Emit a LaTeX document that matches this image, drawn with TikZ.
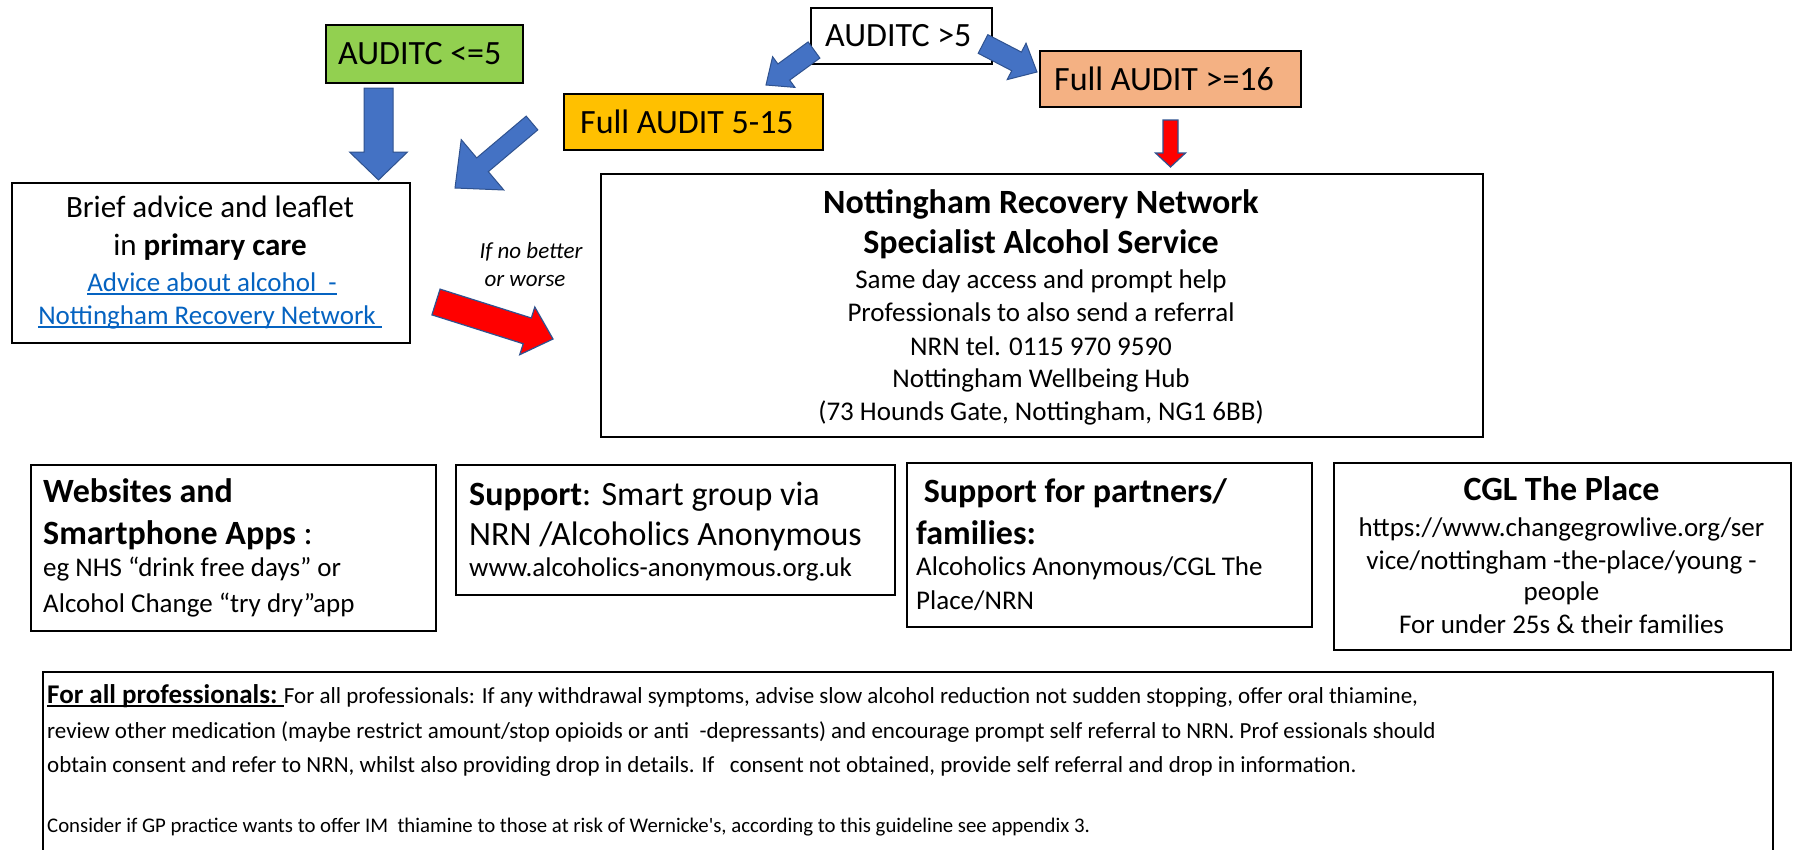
\documentclass[tikz,border=0pt]{standalone}
\usepackage{fontspec}
\setmainfont{Carlito}
\usetikzlibrary{calc}
\definecolor{abblue}{HTML}{4472C4}
\definecolor{abedge}{HTML}{2F528F}
\definecolor{agreen}{HTML}{92D050}
\definecolor{agold}{HTML}{FFC000}
\definecolor{asalmon}{HTML}{F4B183}
\definecolor{alink}{HTML}{0563C1}
\definecolor{ared}{HTML}{FF0000}
\newcommand\fsbig{\fontsize{34}{40}\selectfont}
\newcommand\fsmid{\fontsize{31}{38}\selectfont}
\newcommand\fsbody{\fontsize{27}{33}\selectfont}
\newcommand\fsnote{\fontsize{23}{28}\selectfont}
\newcommand\fslead{\fontsize{27}{32}\selectfont}
\newcommand\fssmall{\fontsize{23}{28}\selectfont}
\newcommand\fstiny{\fontsize{20.8}{26}\selectfont}
% block arrow: style, tail, tip, shaft half width, head half width, head length
\newcommand\blockarrow[6]{%
  \coordinate (ba-h) at ($(#3)!#6!(#2)$);
  \path[#1] ($(#2)!#4!90:(#3)$) -- ($(ba-h)!#4!90:(#3)$) -- ($(ba-h)!#5!90:(#3)$)
    -- (#3) -- ($(ba-h)!#5!-90:(#3)$) -- ($(ba-h)!#4!-90:(#3)$) -- ($(#2)!#4!-90:(#3)$) -- cycle;}
\tikzset{
  box/.style={draw=black, line width=1.6pt, inner sep=0pt, anchor=north west},
  lbl/.style={inner sep=0pt, anchor=base},
  lblw/.style={inner sep=0pt, anchor=base west},
  bluearrow/.style={fill=abblue, draw=abedge, line width=1pt},
  redarrow/.style={fill=ared, draw=abedge, line width=1.2pt},
  linkline/.style={draw=alink, line width=1.3pt},
}
\begin{document}
\begin{tikzpicture}[x=1pt,y=-1pt]
\useasboundingbox (0,0) rectangle (1793,849);
\fill[white] (0,0) rectangle (1793,849);

% top decision boxes
\node[box, fill=agreen, minimum width=197pt, minimum height=58pt] (c5) at (325,24) {};
\node[lblw] (c5t) at (338,64) {\fsbig AUDITC <=5};
\node[box, fill=white, minimum width=181pt, minimum height=56pt] (cg5) at (810,7) {};
\node[lblw] (cg5t) at (825,46) {\fsbig AUDITC >5};
\node[box, fill=agold, minimum width=259pt, minimum height=56pt] (fa) at (563,93) {};
\node[lblw] (fat) at (580,133) {\fsbig Full AUDIT 5-15};
\node[box, fill=asalmon, minimum width=261pt, minimum height=56pt] (fb) at (1039,50) {};
\node[lblw] (fbt) at (1054,90) {\fsbig Full AUDIT >=16};

% brief advice box
\node[box, minimum width=398pt, minimum height=160pt] (brief) at (11,182) {};
\node[lbl] (br1) at (210,217) {\fsmid Brief advice and leaflet};
\node[lbl] (br2) at (210,255) {\fsmid in \textbf{primary care}};
\node[lbl, text=alink] (br3) at (212,291) {\fsbody Advice about alcohol\ \ -};
\node[lbl, text=alink] (br4) at (210,324) {\fsbody Nottingham Recovery Network\ \null};
\draw[linkline] ([yshift=-3pt]br3.base west) -- ([yshift=-3pt]br3.base east);
\draw[linkline] ([yshift=-3pt]br4.base west) -- ([yshift=-3pt]br4.base east);

% note
\node[lbl] (n1) at (531,258) {\fsnote\itshape If no better};
\node[lbl] (n2) at (525,286) {\fsnote\itshape or worse};

% NRN box
\node[box, minimum width=882pt, minimum height=263pt] (nrn) at (600,173) {};
\node[lbl] (nr1) at (1041,213) {\fsbig\bfseries Nottingham Recovery Network};
\node[lbl] (nr2) at (1041,253) {\fsbig\bfseries Specialist Alcohol Service};
\node[lbl] (nr3) at (1041,288) {\fsbody Same day access and prompt help};
\node[lbl] (nr4) at (1041,321) {\fsbody Professionals to also send a referral};
\node[lbl] (nr5) at (1041,355) {\fsbody NRN tel. 0115 970 9590};
\node[lbl] (nr6) at (1041,387) {\fsbody Nottingham Wellbeing Hub};
\node[lbl] (nr7) at (1041,420) {\fsbody (73 Hounds Gate, Nottingham, NG1 6BB)};

% websites box
\node[box, minimum width=405pt, minimum height=166pt] (web) at (30,464) {};
\node[lblw] (we1) at (43,502) {\fsbig\bfseries Websites and};
\node[lblw] (we2) at (43,544) {\fsbig\textbf{Smartphone Apps} :};
\node[lblw] (we3) at (43,576) {\fsbody eg NHS “drink free days” or};
\node[lblw] (we4) at (43,612) {\fsbody Alcohol Change “try dry”app};

% support box
\node[box, minimum width=439pt, minimum height=130pt] (sup) at (455,464) {};
\node[lblw] (su1) at (469,505) {\fsbig\textbf{Support}: Smart group via};
\node[lblw] (su2) at (469,545) {\fsbig NRN /Alcoholics Anonymous};
\node[lblw] (su3) at (469,576) {\fsbody www.alcoholics-anonymous.org.uk};

% partners box
\node[box, minimum width=405pt, minimum height=164pt] (par) at (906,462) {};
\node[lblw] (pa1) at (916,502) {\fsbig\bfseries\ Support for partners/};
\node[lblw] (pa2) at (916,544) {\fsbig\bfseries families:};
\node[lblw] (pa3) at (916,575) {\fsbody Alcoholics Anonymous/CGL The};
\node[lblw] (pa4) at (916,609) {\fsbody Place/NRN};

% CGL box
\node[box, minimum width=457pt, minimum height=187pt] (cgl) at (1333,462) {};
\node[lbl] (cg1) at (1561.5,500) {\fsbig\bfseries CGL The Place};
\node[lbl] (cg2) at (1561.5,536) {\fsbody https://www.changegrowlive.org/ser};
\node[lbl] (cg3) at (1561.5,569) {\fsbody vice/nottingham -the-place/young -};
\node[lbl] (cg4) at (1561.5,600) {\fsbody people};
\node[lbl] (cg5) at (1561.5,633) {\fsbody For under 25s \& their families};

% bottom box
\node[box, minimum width=1730pt, minimum height=220pt] (prof) at (42,671) {};
\node[lblw] (pr1a) at (47,703) {\fslead\bfseries For all professionals:\ \null};
\draw[black, line width=1.6pt] ([yshift=-3pt]pr1a.base west) -- ([yshift=-3pt]pr1a.base east);
\node[lblw] (pr1b) at (pr1a.base east) {\fssmall For all professionals: If any withdrawal symptoms, advise slow alcohol reduction not sudden stopping, offer oral thiamine,};
\node[lblw] (pr2) at (47,738) {\fssmall review other medication (maybe restrict amount/stop opioids or anti\ \ -depressants) and encourage prompt self referral to NRN. Prof essionals should};
\node[lblw] (pr3) at (47,772) {\fssmall obtain consent and refer to NRN, whilst also providing drop in details. If\ \ \ consent not obtained, provide self referral and drop in information.};
\node[lblw] (pr5) at (47,832) {\fstiny Consider if GP practice wants to offer IM\ \ thiamine to those at risk of Wernicke\textquotesingle s, according to this guideline see appendix 3.};

% block arrows
\coordinate (a1s) at (378.5,88);   \coordinate (a1e) at (378.5,180);
\coordinate (a2s) at (532,123);    \coordinate (a2e) at (455,188);
\coordinate (a3s) at (814,50);     \coordinate (a3e) at (766,85);
\coordinate (a4s) at (983,44);     \coordinate (a4e) at (1037,72);
\coordinate (a5s) at (436,302);    \coordinate (a5e) at (553,339);
\coordinate (a6s) at (1170.5,120); \coordinate (a6e) at (1170.5,167);
\blockarrow{bluearrow}{a1s}{a1e}{14.5pt}{29pt}{28pt}
\blockarrow{bluearrow}{a2s}{a2e}{9pt}{33pt}{36pt}
\blockarrow{bluearrow}{a3s}{a3e}{10pt}{19pt}{22pt}
\blockarrow{bluearrow}{a4s}{a4e}{10.5pt}{20.5pt}{23pt}
\blockarrow{redarrow}{a5s}{a5e}{13.5pt}{25pt}{27pt}
\blockarrow{redarrow}{a6s}{a6e}{7.5pt}{15pt}{14pt}
\end{tikzpicture}
\end{document}
